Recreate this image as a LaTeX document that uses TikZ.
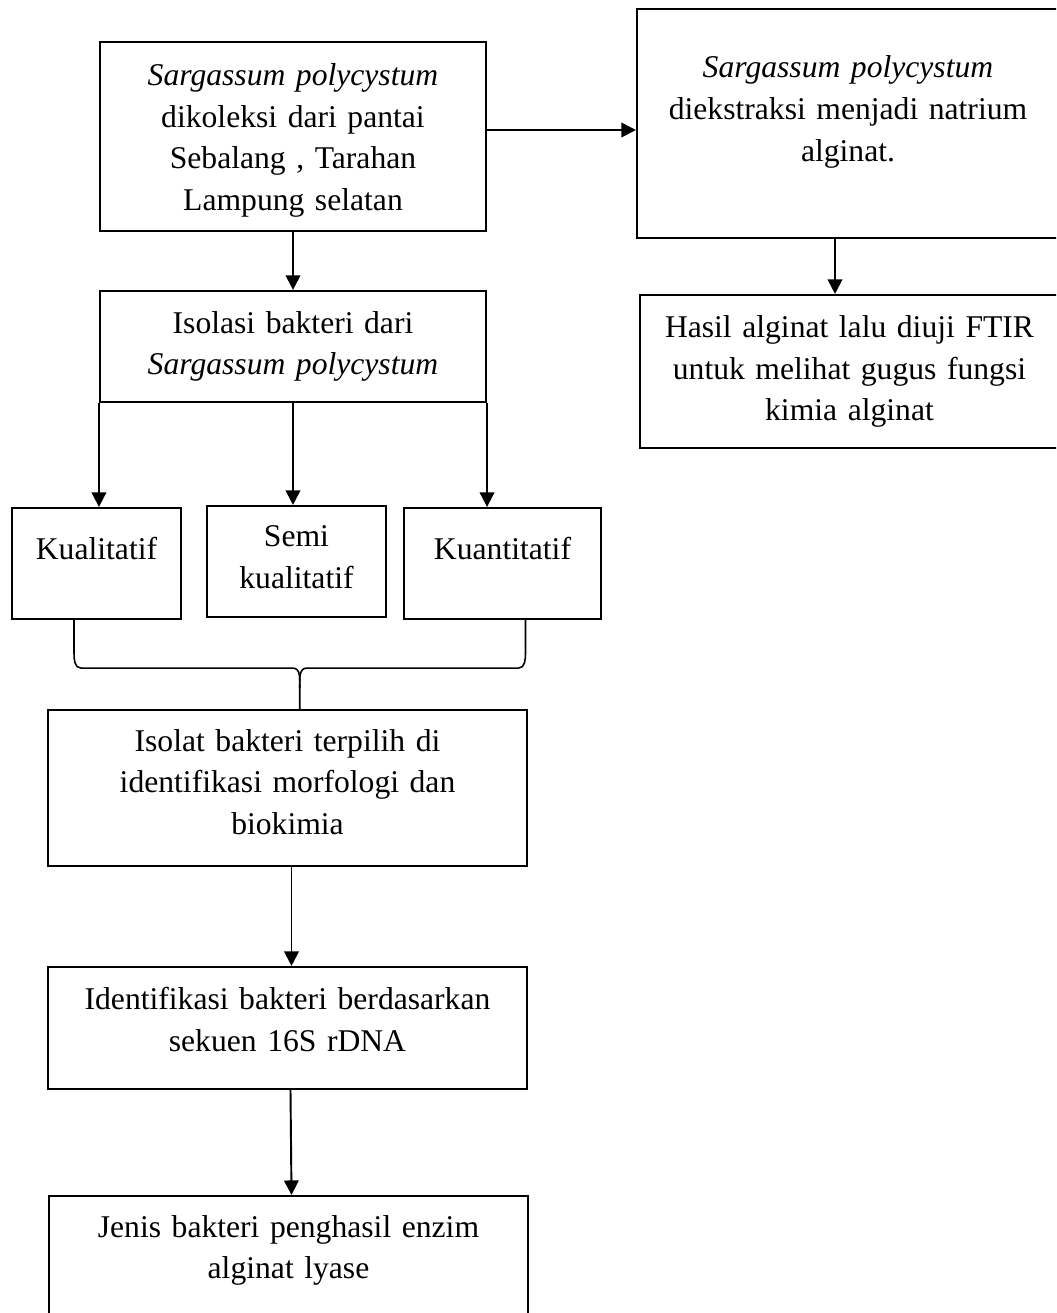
\documentclass[tikz,border=0pt]{standalone}
\usepackage{fontspec}
\setmainfont{Liberation Serif}
\usetikzlibrary{arrows.meta,calc}

\tikzset{
  box/.style={draw, line width=1.2pt, inner xsep=0pt, inner ysep=1mm, align=center},
  boxsize/.style 2 args={minimum width=#1cm, text width=#1cm, minimum height=#2cm},
  lift/.style={execute at end node={\par\vspace*{#1}}},
  arr/.style={-{Triangle[length=2.9mm,width=2.9mm]}, line width=1.1pt},
  link/.style={line width=0.9pt}
}

\begin{document}
\begin{tikzpicture}[font=\fontsize{18}{23.7}\selectfont]
  \useasboundingbox (0,0) rectangle (21.12,-26.26);
  \clip (0,0) rectangle (21.12,-26.26);

  % alginate branch
  \node[box,boxsize={7.72}{3.78},lift=-4.5pt] (sp) at (5.86,-2.73) {\textit{Sargassum polycystum}\\ dikoleksi dari pantai\\ Sebalang , Tarahan\\ Lampung selatan};
  \node[box,boxsize={8.44}{4.58},lift=13pt] (ext) at (16.96,-2.47) {\textit{Sargassum polycystum}\\ diekstraksi menjadi natrium\\ alginat.};
  \node[box,boxsize={8.38}{3.06}] (ftir) at (16.99,-7.43) {Hasil alginat lalu diuji FTIR\\ untuk melihat gugus fungsi\\ kimia alginat};

  % bacteria branch
  \node[box,boxsize={7.72}{2.22}] (iso) at (5.86,-6.93) {Isolasi bakteri dari\\ \textit{Sargassum polycystum}};
  \node[box,boxsize={3.38}{2.22},lift=17.6pt] (kual) at (1.93,-11.27) {Kualitatif};
  \node[box,boxsize={3.58}{2.22},lift=5pt] (semi) at (5.93,-11.23) {Semi\\ kualitatif};
  \node[box,boxsize={3.94}{2.22},lift=17.6pt] (kuan) at (10.05,-11.27) {Kuantitatif};
  \node[box,boxsize={9.58}{3.12},lift=7pt] (sel) at (5.75,-15.76) {Isolat bakteri terpilih di\\ identifikasi morfologi dan\\ biokimia};
  \node[box,boxsize={9.58}{2.44},lift=10pt] (idn) at (5.75,-20.56) {Identifikasi bakteri berdasarkan\\ sekuen 16S rDNA};
  \node[box,boxsize={9.58}{2.78},lift=17pt] (jen) at (5.77,-25.31) {Jenis bakteri penghasil enzim\\ alginat lyase};

  \draw[arr] ([yshift=1.3mm]sp.east) -- ([yshift=1.3mm]sp.east -| ext.west);
  \draw[arr] ([xshift=-2.6mm]ext.south) -- ([xshift=-2.6mm]ext.south |- ftir.north);
  \draw[arr] (sp.south) -- (iso.north);
  \draw[arr] (iso.south west) -- (iso.south west |- kual.north);
  \draw[arr] (iso.south) -- (iso.south |- semi.north);
  \draw[arr] (iso.south east) -- (iso.south east |- kuan.north);

  % brace joining the three tests
  \coordinate (bl) at ([xshift=-4.5mm]kual.south);
  \coordinate (br) at ([xshift=4.6mm]kuan.south);
  \coordinate (bm) at ($(bl)!0.5!(br)$);
  \draw[link] (bl) -- ++(0,-0.66) to[out=-90,in=180] ++(0.14,-0.30) -- ($(bm)+(-0.14,-0.96)$) to[out=0,in=90] ($(bm)+(0,-1.36)$) -- (bm |- sel.north);
  \draw[link] (br) -- ++(0,-0.66) to[out=-90,in=0] ++(-0.14,-0.30) -- ($(bm)+(0.14,-0.96)$) to[out=180,in=90] ($(bm)+(0,-1.36)$);

  \draw[arr] ([xshift=.8mm]sel.south) -- ([xshift=.8mm]idn.north);
  \draw[arr] ([xshift=.6mm]idn.south) -- ([xshift=.6mm]jen.north);
\end{tikzpicture}
\end{document}
